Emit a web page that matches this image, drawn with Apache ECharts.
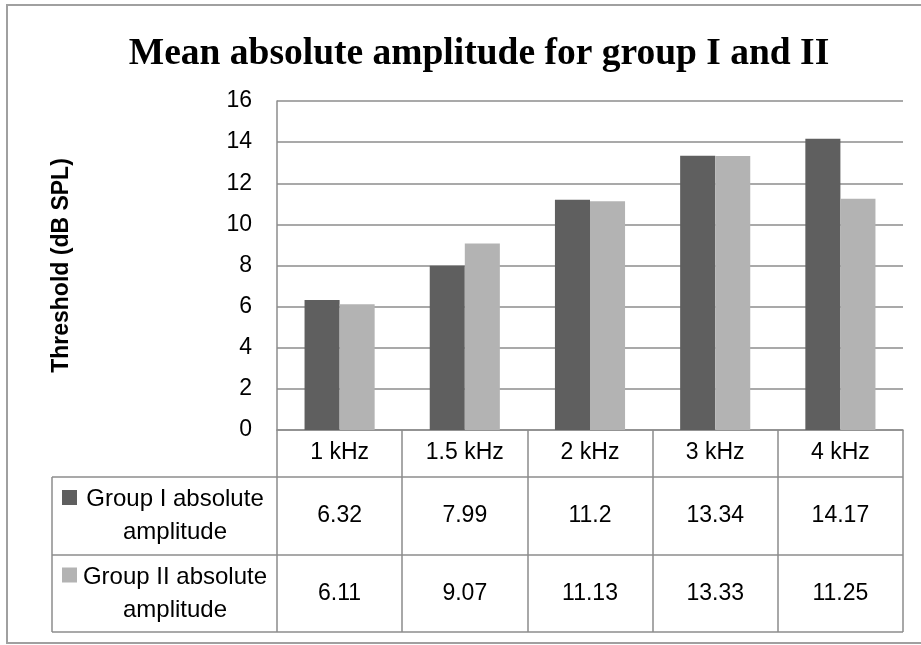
<!DOCTYPE html>
<html>
<head>
<meta charset="utf-8">
<script src="https://cdn.jsdelivr.net/npm/echarts@6/dist/echarts.min.js"></script>
<style>
  html, body { margin: 0; padding: 0; background: #fff; }
  #main { width: 921px; height: 645px; }
</style>
</head>
<body>
<div id="main"></div>
<script>
// data
var categories = ['1 kHz', '1.5 kHz', '2 kHz', '3 kHz', '4 kHz'];
var group1 = [6.32, 7.99, 11.2, 13.34, 14.17];
var group2 = [6.11, 9.07, 11.13, 13.33, 11.25];
var seriesNames = ['Group I absolute amplitude', 'Group II absolute amplitude'];
var rowLabels = ['Group I absolute\namplitude', 'Group II absolute\namplitude'];

var colors = ['#5f5f5f', '#b3b3b3'];
var lineGray = '#8c8c8c';
var font = '"Liberation Sans", Arial, sans-serif';

// layout of the plot + data table below it
var gridLeft = 277, gridTop = 101, gridRight = 18, gridBottom = 215;
var headerH = 47, rowH = [78, 77];
var labelColLeft = 52;

var myChart = echarts.init(document.getElementById('main'));

var option = {
    animation: false,
    backgroundColor: '#fff',
    title: {
        text: 'Mean absolute amplitude for group I and II',
        left: 474,
        top: 30,
        textAlign: 'center',
        textStyle: {
            fontFamily: '"Liberation Serif", "Times New Roman", serif',
            fontWeight: 'bold',
            fontSize: 37.5,
            color: '#000'
        }
    },
    grid: {
        left: gridLeft,
        top: gridTop,
        right: gridRight,
        bottom: gridBottom,
        containLabel: false
    },
    xAxis: {
        type: 'category',
        data: categories,
        axisLine: { show: true, lineStyle: { color: lineGray, width: 1.5 } },
        axisTick: {
            show: true,
            alignWithLabel: false,
            inside: false,
            length: headerH + rowH[0] + rowH[1],
            lineStyle: { color: lineGray, width: 1.5 }
        },
        axisLabel: {
            margin: 23,
            verticalAlign: 'middle',
            fontFamily: font,
            fontSize: 23,
            color: '#000'
        }
    },
    yAxis: {
        type: 'value',
        min: 0,
        max: 16,
        interval: 2,
        name: 'Threshold (dB SPL)',
        nameLocation: 'middle',
        nameRotate: 90,
        nameGap: 204,
        nameTextStyle: {
            fontFamily: font,
            fontWeight: 'bold',
            fontSize: 23,
            color: '#000'
        },
        axisLine: { show: true, lineStyle: { color: lineGray, width: 1.5 } },
        axisTick: { show: false },
        splitLine: { show: true, lineStyle: { color: lineGray, width: 1.5 } },
        axisLabel: {
            margin: 25,
            fontFamily: font,
            fontSize: 23,
            color: '#000'
        }
    },
    series: [
        {
            name: seriesNames[0],
            type: 'bar',
            data: group1,
            barGap: '0%',
            barCategoryGap: '44%',
            itemStyle: { color: colors[0] }
        },
        {
            name: seriesNames[1],
            type: 'bar',
            data: group2,
            barGap: '0%',
            barCategoryGap: '44%',
            itemStyle: { color: colors[1] }
        }
    ]
};

myChart.setOption(option);

// data table under the axis: lines, row labels, values
var W = 921, H = 645;
var axisY = H - gridBottom;
var plotRight = W - gridRight;
var rowTop = [axisY + headerH, axisY + headerH + rowH[0]];
var tableBottom = rowTop[1] + rowH[1];
var tableData = [group1, group2];

var graphics = [];

// outer frame (cut at the right side like the source)
graphics.push({
    type: 'rect',
    shape: { x: 7, y: 5, width: 940, height: 638 },
    style: { fill: 'none', stroke: '#a0a0a0', lineWidth: 2 },
    silent: true
});

// horizontal table lines
[rowTop[0], rowTop[1], tableBottom].forEach(function (y) {
    graphics.push({
        type: 'line',
        shape: { x1: labelColLeft, y1: y, x2: plotRight, y2: y },
        style: { stroke: lineGray, lineWidth: 1.5 },
        silent: true
    });
});
// left border of the row-label column
graphics.push({
    type: 'line',
    shape: { x1: labelColLeft, y1: rowTop[0], x2: labelColLeft, y2: tableBottom },
    style: { stroke: lineGray, lineWidth: 1.5 },
    silent: true
});

for (var r = 0; r < 2; r++) {
    var yMid = rowTop[r] + rowH[r] / 2;
    // legend key
    graphics.push({
        type: 'rect',
        shape: { x: 62, y: yMid - 26, width: 15, height: 15 },
        style: { fill: colors[r] },
        silent: true
    });
    graphics.push({
        type: 'text',
        x: 175,
        y: yMid,
        style: {
            text: rowLabels[r],
            font: '24px ' + font,
            fill: '#000',
            align: 'center',
            verticalAlign: 'middle',
            lineHeight: 33
        },
        silent: true
    });
    for (var i = 0; i < categories.length; i++) {
        var px = myChart.convertToPixel({ xAxisIndex: 0 }, categories[i]);
        graphics.push({
            type: 'text',
            x: px,
            y: yMid,
            style: {
                text: String(tableData[r][i]),
                font: '23px ' + font,
                fill: '#000',
                align: 'center',
                verticalAlign: 'middle'
            },
            silent: true
        });
    }
}

myChart.setOption({ graphic: graphics });
</script>
</body>
</html>
